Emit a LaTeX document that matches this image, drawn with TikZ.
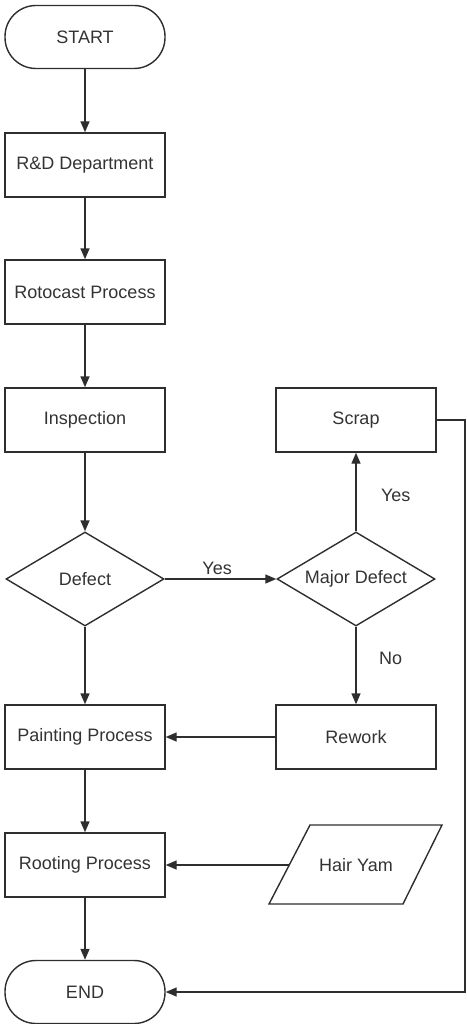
\documentclass[tikz,border=0pt]{standalone}
\usepackage{fontspec}
\setmainfont{Liberation Sans}
\usetikzlibrary{shapes.geometric,arrows.meta}
\definecolor{ink}{HTML}{2E2E2E}
\definecolor{txt}{HTML}{333333}
\begin{document}
\begin{tikzpicture}[x=1pt,y=1pt,
  every node/.style={font=\fontsize{18}{21}\selectfont, text=txt},
  procbox/.style={draw=ink, line width=1.4pt, rectangle, minimum width=160pt, minimum height=64pt, inner sep=0pt},
  termbox/.style={draw=ink, line width=1.4pt, rectangle, rounded corners=31pt, minimum width=160pt, minimum height=63pt, inner sep=0pt},
  decbox/.style={draw=ink, line width=1.4pt, diamond, aspect=1.7, minimum width=158pt, minimum height=94pt, inner sep=0pt},
  iobox/.style={rectangle, minimum width=133pt, minimum height=79pt, inner sep=0pt},
  flow/.style={draw=ink, line width=1.4pt, -{Triangle[length=11pt,width=9pt]}},
  lbl/.style={font=\fontsize{18}{21}\selectfont, text=txt}
]
\useasboundingbox (0,0) rectangle (466,-1024);
\node[termbox] (start) at (85,-37) {START};
\node[procbox] (rd) at (85,-165) {R\&D Department};
\node[procbox] (roto) at (85,-292) {Rotocast Process};
\node[procbox] (insp) at (85,-420) {Inspection};
\node[decbox] (defect) at (85,-579) {Defect};
\node[procbox] (paint) at (85,-737) {Painting Process};
\node[procbox] (root) at (85,-865) {Rooting Process};
\node[termbox] (end) at (85,-992) {END};
\node[procbox] (scrap) at (356,-420) {Scrap};
\node[decbox] (major) at (356,-579) {Major Defect};
\node[procbox] (rework) at (356,-737) {Rework};
\node[iobox] (hair) at (356,-865) {Hair Yam};
\draw[ink, line width=1.4pt] (269,-904) -- (310,-825) -- (442,-825) -- (403,-904) -- cycle;
\coordinate (corner) at (465,-420);

\draw[flow] (start) -- (rd);
\draw[flow] (rd) -- (roto);
\draw[flow] (roto) -- (insp);
\draw[flow] (insp) -- (defect);
\draw[flow] (defect) -- (paint);
\draw[flow] (paint) -- (root);
\draw[flow] (root) -- (end);
\draw[flow] (defect.east) -- node[lbl, above, pos=0.47] {Yes} (major.west);
\draw[flow] (major.north) -- node[lbl, right=21pt, pos=0.46] {Yes} (scrap.south);
\draw[flow] (major.south) -- node[lbl, right=19pt, pos=0.41] {No} (rework.north);
\draw[flow] (rework.west) -- (paint.east);
\draw[flow] (hair.west) -- (root.east);
\draw[flow] (scrap.east) -- (corner) |- (end.east);
\end{tikzpicture}
\end{document}
